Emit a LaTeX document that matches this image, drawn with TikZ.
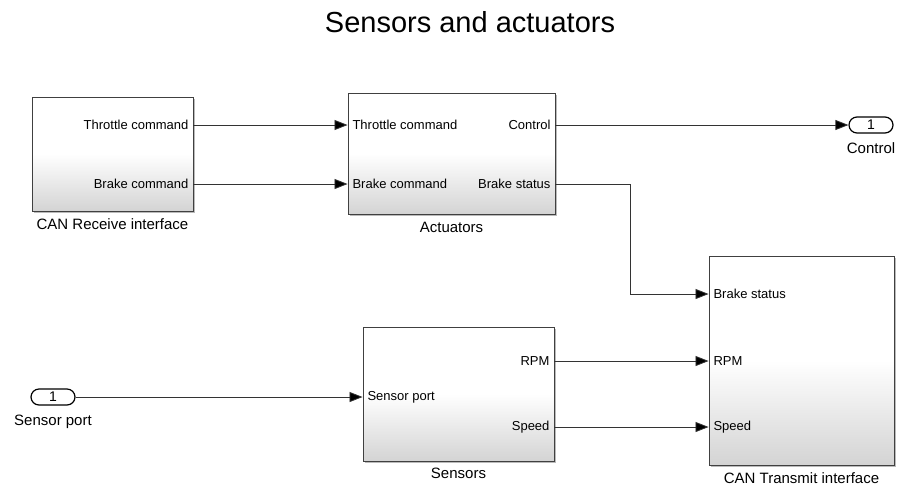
\documentclass[tikz,border=0pt]{standalone}
\usepackage{fontspec}
\setmainfont{Liberation Sans}
\usetikzlibrary{arrows.meta, positioning, shapes.misc, shadows}

\begin{document}
\begin{tikzpicture}[
  x=1pt, y=-1pt,
  block/.style={rectangle, draw=black!75, line width=0.9pt, top color=white, bottom color=black!17, middle color=white,
    drop shadow={shadow xshift=1.8pt, shadow yshift=-1.8pt, fill=black!45, opacity=0.6}},
  lbl/.style={font=\fontsize{13}{15}\selectfont, inner sep=1pt},
  blkname/.style={font=\fontsize{15}{17}\selectfont, inner sep=1pt},
  inlbl/.style={lbl, anchor=west, inner sep=0pt, outer xsep=5pt},
  outlbl/.style={lbl, anchor=east, inner sep=0pt, outer xsep=5pt},
  port/.style={rounded rectangle, draw=black, line width=1.2pt, fill=white, minimum width=44pt, minimum height=16pt, inner sep=0pt, font=\fontsize{14}{16}\selectfont},
  line/.style={draw=black!80, line width=0.8pt},
  >={Triangle[length=13pt, width=10pt, fill=black]},
]
  \useasboundingbox (0,0) rectangle (920,491);

  % ── Title ──────────────────────────────────
  \node[font=\fontsize{29}{34}\selectfont] (title) at (470,22) {Sensors and actuators};

  % ── CAN Receive interface ──────────────────
  \node[block, minimum width=161pt, minimum height=114pt] (recv) at (112.5,154) {};
  \node[blkname, below=6pt of recv.south] {CAN Receive interface};
  \node[outlbl] (rthr) at (recv.east |- 0,125) {Throttle command};
  \node[outlbl] (rbrk) at (recv.east |- 0,184) {Brake command};

  % ── Actuators ──────────────────────────────
  \node[block, minimum width=207pt, minimum height=121pt] (act) at (451.5,153.5) {};
  \node[blkname, below=7pt of act.south] {Actuators};
  \node[inlbl] (athr) at (act.west |- 0,125) {Throttle command};
  \node[inlbl] (abrk) at (act.west |- 0,184) {Brake command};
  \node[outlbl] (actl) at (act.east |- 0,125) {Control};
  \node[outlbl] (abst) at (act.east |- 0,184) {Brake status};

  % ── Control outport ────────────────────────
  \node[port] (ctl) at (871,125) {1};
  \node[blkname, below=8pt of ctl] {Control};

  % ── Sensor port inport ─────────────────────
  \node[port] (sport) at (53,397) {1};
  \node[blkname, below=8pt of sport] {Sensor port};

  % ── Sensors ────────────────────────────────
  \node[block, minimum width=191pt, minimum height=134pt] (sens) at (458.5,394) {};
  \node[blkname, below=5pt of sens.south] {Sensors};
  \node[inlbl] (sprt) at (sens.west |- 0,397) {Sensor port};
  \node[outlbl] (srpm) at (sens.east |- 0,361) {RPM};
  \node[outlbl] (sspd) at (sens.east |- 0,427) {Speed};

  % ── CAN Transmit interface ─────────────────
  \node[block, minimum width=185pt, minimum height=209pt] (tx) at (801.5,360.5) {};
  \node[blkname, below=6pt of tx.south] {CAN Transmit interface};
  \node[inlbl] (tbst) at (tx.west |- 0,294) {Brake status};
  \node[inlbl] (trpm) at (tx.west |- 0,361) {RPM};
  \node[inlbl] (tspd) at (tx.west |- 0,427) {Speed};

  % ── Connections ────────────────────────────
  \draw[line, ->] (rthr.east) -- (athr.west);
  \draw[line, ->] (rbrk.east) -- (abrk.west);
  \draw[line, ->] (actl.east) -- (ctl.west);
  \draw[line, ->] (abst.east) -- ++(75,0) |- (tbst.west);
  \draw[line, ->] (sport.east) -- (sprt.west);
  \draw[line, ->] (srpm.east) -- (trpm.west);
  \draw[line, ->] (sspd.east) -- (tspd.west);

\end{tikzpicture}
\end{document}
